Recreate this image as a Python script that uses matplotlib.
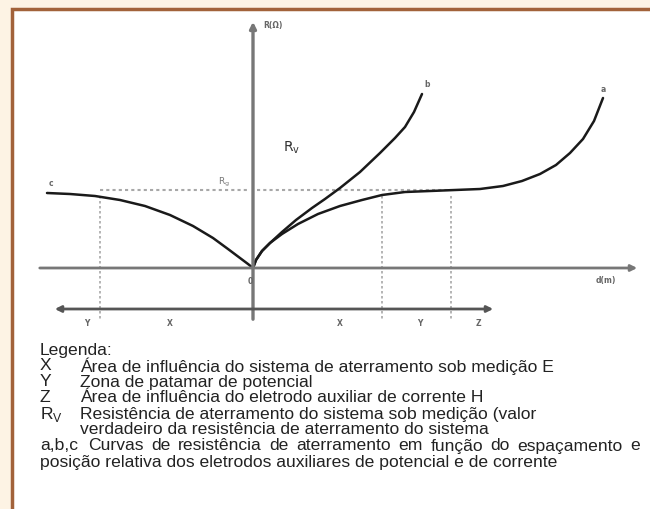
import matplotlib.pyplot as plt
from matplotlib.patches import Rectangle

# diagram drawn in pixel-like units (x right, y down)
origin = (253, 268)

curve_a_x = [253, 256, 262, 270, 282, 298, 318, 340, 362, 382, 405, 430, 455, 480, 503, 522, 540, 556, 570, 583, 594, 603]
curve_a_y = [268, 260, 251, 243, 234, 224, 214, 206, 200, 195, 192, 191, 190, 189, 186, 181, 174, 165, 153, 139, 121, 98]

curve_b_x = [253, 256, 262, 270, 282, 296, 312, 325, 340, 360, 380, 395, 405, 414, 422]
curve_b_y = [268, 260, 251, 243, 232, 220, 208, 199, 188, 172, 153, 138, 127, 112, 94]

curve_c_x = [47, 70, 95, 120, 145, 170, 193, 213, 228, 240, 248, 253]
curve_c_y = [193, 194, 196, 200, 206, 215, 226, 238, 249, 258, 264, 268]

rg_level = 190
dotted_x = [100, 382, 451]

zone_labels = ['Y', 'X', 'X', 'Y', 'Z']
zone_label_x = [87, 170, 340, 420, 478]

legend_keys = ['X', 'Y', 'Z', 'R$_\\mathregular{V}$', '', 'a,b,c']
legend_texts = [
    'Área de influência do sistema de aterramento sob medição E',
    'Zona de patamar de potencial',
    'Área de influência do eletrodo auxiliar de corrente H',
    'Resistência de aterramento do sistema sob medição (valor',
    'verdadeiro da resistência de aterramento do sistema',
    'Curvas de resistência de aterramento em função do espaçamento e',
]
legend_last = 'posição relativa dos eletrodos auxiliares de potencial e de corrente'

fig = plt.figure(figsize=(6.5, 5.09), dpi=100)
fig.patch.set_facecolor('#fdf3e4')
ax = fig.add_axes([0, 0, 1, 1])
ax.set_xlim(0, 650)
ax.set_ylim(509, 0)
ax.axis('off')

# white panel with brown frame
ax.add_patch(Rectangle((12, 9), 700, 600, facecolor='white', edgecolor='#a2623a', lw=2.5))

dot_col = '#a8a8a8'

# axes
ax.annotate('', xy=(640, origin[1]), xytext=(37, origin[1]),
            arrowprops=dict(arrowstyle='-|>', color='#777777', lw=2.0, mutation_scale=9))
ax.annotate('', xy=(origin[0], 19), xytext=(origin[0], 322),
            arrowprops=dict(arrowstyle='-|>', color='#777777', lw=2.4, mutation_scale=9))
ax.annotate('', xy=(52, 309), xytext=(496, 309),
            arrowprops=dict(arrowstyle='<|-|>', color='#555555', lw=2.0, mutation_scale=9))

# dotted guides
ax.plot([100, 250], [rg_level, rg_level], color=dot_col, lw=1.5, ls=(0, (1.5, 1.5)))
ax.plot([257, 451], [rg_level, rg_level], color=dot_col, lw=1.5, ls=(0, (1.5, 1.5)))
for xv in dotted_x:
    ax.plot([xv, xv], [196, 321], color=dot_col, lw=1.2, ls=(0, (1.5, 1.5)))

# curves
ax.plot(curve_a_x, curve_a_y, color='#1a1a1a', lw=1.8, solid_capstyle='round')
ax.plot(curve_b_x, curve_b_y, color='#1a1a1a', lw=1.8, solid_capstyle='round')
ax.plot(curve_c_x, curve_c_y, color='#1a1a1a', lw=1.8, solid_capstyle='round')

small = dict(fontsize=5.5, color='#666666', ha='center', va='center', fontweight='bold')
ax.text(51, 184, 'c', **small)
ax.text(427, 84, 'b', **small)
ax.text(603, 89, 'a', **small)
ax.text(273, 25, 'R(Ω)', **small)
ax.text(250, 281, '0', **small)
ax.text(606, 281, 'd(m)', **small)
ax.text(224, 182, 'R$_\\mathregular{g}$', fontsize=6.5, color='#777777', ha='center', va='center')
ax.text(292, 148, 'R$_\\mathregular{v}$', fontsize=10, color='#333333', ha='center', va='center')
for lab, xl in zip(zone_labels, zone_label_x):
    ax.text(xl, 324, lab, **small)

# legend text
font = ['Liberation Sans', 'DejaVu Sans']
tcol = '#222222'
fs = 12.6
renderer = fig.canvas.get_renderer()


def justified(text, x0, x1, y):
    # spread words so the line fills x0..x1
    words = text.split()
    objs = [ax.text(0, y, w, fontsize=fs, color=tcol, va='center', family=font) for w in words]
    widths = []
    for o in objs:
        bb = o.get_window_extent(renderer)
        widths.append(bb.width * 650 / fig.bbox.width)
    gap = (x1 - x0 - sum(widths)) / (len(words) - 1)
    x = x0
    for o, w in zip(objs, widths):
        o.set_x(x)
        x += w + gap


ax.text(40, 350, 'Legenda:', fontsize=fs, color=tcol, va='center', family=font)
for i, (k, t) in enumerate(zip(legend_keys, legend_texts)):
    y = 366 + 16 * i
    ax.text(40, y, k, fontsize=fs, color=tcol, va='center', family=font)
    if k == 'a,b,c':
        justified(t, 88, 640, y)
    else:
        ax.text(80, y, t, fontsize=fs, color=tcol, va='center', family=font)
ax.text(40, 462, legend_last, fontsize=fs, color=tcol, va='center', family=font)

fig.savefig('out.png', dpi=100, facecolor=fig.get_facecolor())
